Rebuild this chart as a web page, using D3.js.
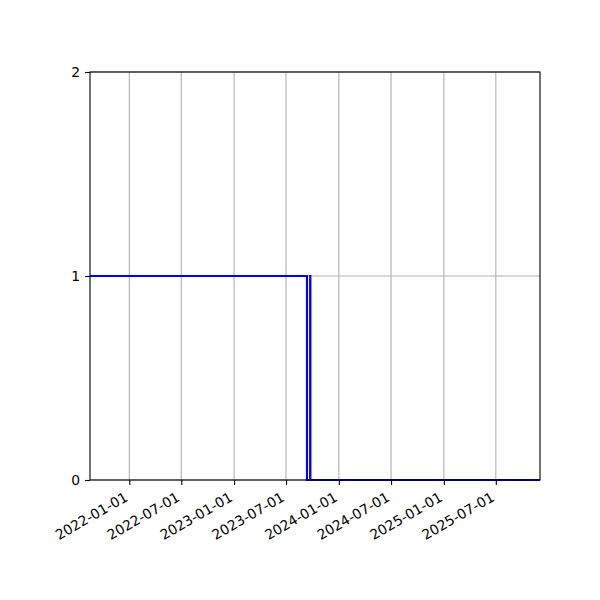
<!DOCTYPE html>
<html>
<head>
<meta charset="utf-8">
<script src="https://cdn.jsdelivr.net/npm/d3@7"></script>
<style>
  body { margin: 0; background: #fff; }
  text { font-family: "DejaVu Sans", sans-serif; }
</style>
</head>
<body>
<div id="chart"></div>
<script>
// step data: date where the value starts, and value
const stepDates = ['2021-08-17', '2023-09-12', '2023-09-23', '2023-09-24', '2025-12-02'];
const stepValues = [1, 0, 1, 0, 0];

const xDomain = ['2021-08-17', '2025-12-02'];
const xTicks = ['2022-01-01', '2022-07-01', '2023-01-01', '2023-07-01',
    '2024-01-01', '2024-07-01', '2025-01-01', '2025-07-01'];
const yTicks = [0, 1, 2];

const parse = d3.utcParse('%Y-%m-%d');
const W = 600, H = 600;
const mLeft = 90, mRight = 540, mTop = 72, mBottom = 480;

const svg = d3.select('#chart')
    .append('svg')
    .attr('width', W)
    .attr('height', H);

const x = d3.scaleUtc()
    .domain(xDomain.map(parse))
    .range([mLeft, mRight]);
const y = d3.scaleLinear()
    .domain([0, 2])
    .range([mBottom, mTop]);

// grid
svg.append('g')
    .selectAll('line')
    .data(xTicks)
    .join('line')
    .attr('x1', (d) => x(parse(d)))
    .attr('x2', (d) => x(parse(d)))
    .attr('y1', mTop)
    .attr('y2', mBottom)
    .attr('stroke', '#b0b0b0')
    .attr('stroke-width', 1.1);
svg.append('g')
    .selectAll('line')
    .data(yTicks)
    .join('line')
    .attr('x1', mLeft)
    .attr('x2', mRight)
    .attr('y1', (d) => y(d))
    .attr('y2', (d) => y(d))
    .attr('stroke', '#b0b0b0')
    .attr('stroke-width', 1.1);

// the step line
const pts = stepDates.map((d, i) => ({t: parse(d), v: stepValues[i]}));
const lineFunc = d3.line()
    .x((d) => x(d.t))
    .y((d) => y(d.v))
    .curve(d3.curveStepAfter);

svg.append('path')
    .attr('d', lineFunc(pts))
    .attr('stroke', '#0000ff')
    .attr('stroke-width', 2.1)
    .attr('fill', 'none');

// axes
const xAxis = svg.append('g')
    .attr('transform', `translate(0,${mBottom})`)
    .call(d3.axisBottom(x)
        .tickValues(xTicks.map(parse))
        .tickFormat(d3.utcFormat('%Y-%m-%d'))
        .tickSizeOuter(0)
        .tickSize(4.9)
        .tickPadding(4.9));
xAxis.select('.domain').remove();
xAxis.selectAll('.tick line').attr('stroke', '#000').attr('stroke-width', 1.1);
xAxis.selectAll('.tick text')
    .attr('font-size', 13.9)
    .attr('fill', '#000')
    .attr('text-anchor', 'end')
    .attr('dy', null)
    .attr('y', 0)
    .attr('transform', 'translate(-1,20) rotate(-30)');

const yAxis = svg.append('g')
    .attr('transform', `translate(${mLeft},0)`)
    .call(d3.axisLeft(y)
        .tickValues(yTicks)
        .tickFormat(d3.format('d'))
        .tickSizeOuter(0)
        .tickSize(4.9)
        .tickPadding(4.9));
yAxis.select('.domain').remove();
yAxis.selectAll('.tick line').attr('stroke', '#000').attr('stroke-width', 1.1);
yAxis.selectAll('.tick text')
    .attr('font-size', 13.9)
    .attr('fill', '#000');

// frame
svg.append('rect')
    .attr('x', mLeft)
    .attr('y', mTop)
    .attr('width', mRight - mLeft)
    .attr('height', mBottom - mTop)
    .attr('fill', 'none')
    .attr('stroke', '#000')
    .attr('stroke-width', 1.1);
</script>
</body>
</html>
